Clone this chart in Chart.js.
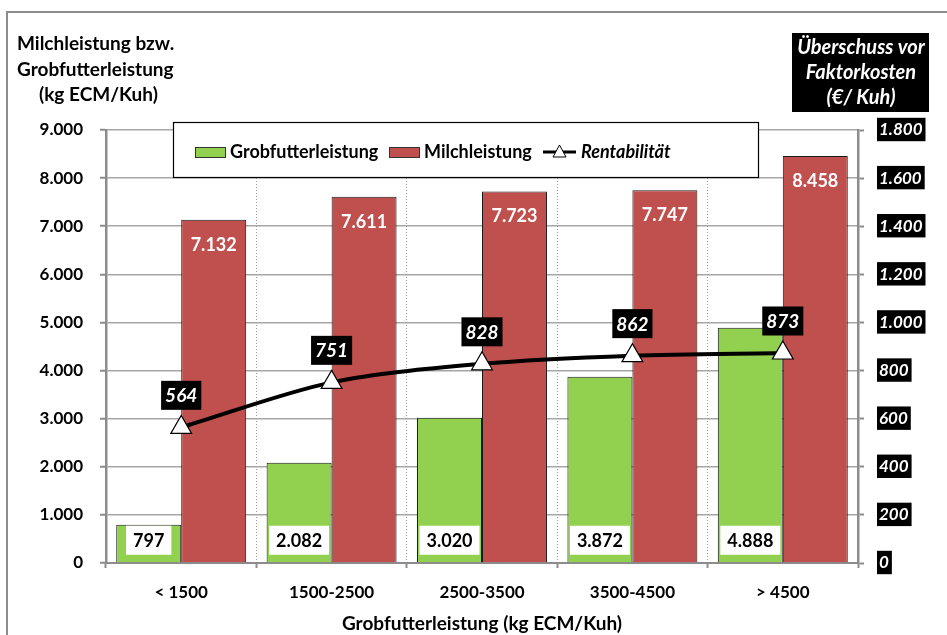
<!DOCTYPE html>
<html>
<head>
<meta charset="utf-8">
<script src="https://cdn.jsdelivr.net/npm/chart.js@4/dist/chart.umd.min.js"></script>
<style>
  html, body { margin: 0; padding: 0; background: #fff; }
  canvas { display: block; }
</style>
</head>
<body>
<canvas id="chart" width="947" height="635"></canvas>
<script>
// categories and series
const categories = ['< 1500', '1500-2500', '2500-3500', '3500-4500', '> 4500'];
const grobfutter = [797, 2082, 3020, 3872, 4888];
const milch = [7132, 7611, 7723, 7747, 8458];
const rentabilitaet = [564, 751, 828, 862, 873];

const FONT = 'Lato, "Open Sans", sans-serif';
const GRID = '#a6a6a6';
const AXIS = '#8c8c8c';

// German thousands separator
function de(v) {
  return Number(v).toLocaleString('de-DE');
}

function boxText(ctx, text, x, y, font, color, bg, padX, padY) {
  ctx.font = font;
  const w = ctx.measureText(text).width;
  const h = 19;
  ctx.fillStyle = bg;
  ctx.fillRect(x - w / 2 - padX, y - h / 2 - padY, w + padX * 2, h + padY * 2);
  ctx.fillStyle = color;
  ctx.textAlign = 'center';
  ctx.textBaseline = 'middle';
  ctx.fillText(text, x, y + 1);
}

const decorations = {
  id: 'decorations',
  beforeDraw(chart) {
    const ctx = chart.ctx;
    ctx.save();
    ctx.fillStyle = '#fff';
    ctx.fillRect(0, 0, chart.width, chart.height);
    ctx.strokeStyle = '#8c8c8c';
    ctx.lineWidth = 2;
    ctx.strokeRect(7, 12, chart.width + 10, chart.height + 10);

    // left axis title
    ctx.fillStyle = '#000';
    ctx.font = 'bold 19px ' + FONT;
    ctx.textAlign = 'left';
    ctx.textBaseline = 'middle';
    ctx.fillText('Milchleistung bzw.', 17, 44);
    ctx.fillText('Grobfutterleistung', 17, 70);
    ctx.fillText('(kg ECM/Kuh)', 39, 95);

    // right axis title in black box
    ctx.fillStyle = '#000';
    ctx.fillRect(792, 33, 137, 79);
    ctx.fillStyle = '#fff';
    ctx.font = 'italic bold 20px ' + FONT;
    ctx.textAlign = 'center';
    ctx.fillText('Überschuss vor', 861, 48);
    ctx.fillText('Faktorkosten', 861, 73);
    ctx.fillText('(€/ Kuh)', 861, 98);
    ctx.restore();
  },
  afterDatasetsDraw(chart) {
    const ctx = chart.ctx;
    ctx.save();
    const green = chart.getDatasetMeta(0).data;
    const red = chart.getDatasetMeta(1).data;
    const line = chart.getDatasetMeta(2).data;
    const labelFont = 'bold 18px ' + FONT;

    green.forEach((bar, i) => {
      boxText(ctx, de(grobfutter[i]), bar.x, bar.base - 22, labelFont, '#000', '#fff', 7, 5);
    });
    red.forEach((bar, i) => {
      ctx.font = labelFont;
      ctx.fillStyle = '#fff';
      ctx.textAlign = 'center';
      ctx.textBaseline = 'middle';
      ctx.fillText(de(milch[i]), bar.x, bar.y + 25);
    });
    line.forEach((pt, i) => {
      boxText(ctx, de(rentabilitaet[i]), pt.x, pt.y - 32, 'italic bold 19px ' + FONT, '#fff', '#000', 4, 5);
    });

    // legend box overlapping the plot
    ctx.fillStyle = '#fff';
    ctx.fillRect(173, 122, 585, 56);
    ctx.strokeStyle = '#000';
    ctx.lineWidth = 1.2;
    ctx.strokeRect(173.5, 122.5, 585, 55);
    ctx.font = 'bold 18px ' + FONT;
    ctx.textAlign = 'left';
    ctx.textBaseline = 'middle';
    const ly = 152;
    ctx.fillStyle = '#92D050';
    ctx.fillRect(195, ly - 5, 31, 10);
    ctx.strokeStyle = '#333';
    ctx.lineWidth = 1;
    ctx.strokeRect(195.5, ly - 4.5, 30, 10);
    ctx.fillStyle = '#000';
    ctx.fillText('Grobfutterleistung', 230, ly);
    ctx.fillStyle = '#C0504D';
    ctx.fillRect(389, ly - 5, 31, 10);
    ctx.strokeRect(389.5, ly - 4.5, 30, 10);
    ctx.fillStyle = '#000';
    ctx.fillText('Milchleistung', 424, ly);
    ctx.strokeStyle = '#000';
    ctx.lineWidth = 3;
    ctx.beginPath();
    ctx.moveTo(543, ly);
    ctx.lineTo(576, ly);
    ctx.stroke();
    ctx.beginPath();
    ctx.moveTo(559.5, ly - 7);
    ctx.lineTo(566, ly + 5);
    ctx.lineTo(553, ly + 5);
    ctx.closePath();
    ctx.fillStyle = '#fff';
    ctx.fill();
    ctx.lineWidth = 1;
    ctx.stroke();
    ctx.fillStyle = '#000';
    ctx.font = 'italic bold 18px ' + FONT;
    ctx.fillText('Rentabilität', 581, ly);
    ctx.restore();
  }
};

new Chart(document.getElementById('chart'), {
  type: 'bar',
  data: {
    labels: categories,
    datasets: [
      {
        label: 'Grobfutterleistung',
        data: grobfutter,
        backgroundColor: '#92D050',
        borderColor: '#1a1a1a',
        borderWidth: 1,
        borderSkipped: 'bottom',
        yAxisID: 'y',
        order: 2
      },
      {
        label: 'Milchleistung',
        data: milch,
        backgroundColor: '#C0504D',
        borderColor: '#1a1a1a',
        borderWidth: 1,
        borderSkipped: 'bottom',
        yAxisID: 'y',
        order: 2
      },
      {
        type: 'line',
        label: 'Rentabilität',
        data: rentabilitaet,
        borderColor: '#000',
        borderWidth: 4,
        tension: 0.3,
        pointStyle: 'triangle',
        pointRadius: 12,
        pointBackgroundColor: '#fff',
        pointBorderColor: '#000',
        pointBorderWidth: 1.2,
        yAxisID: 'y1',
        order: 1
      }
    ]
  },
  options: {
    responsive: false,
    animation: false,
    devicePixelRatio: 1,
    categoryPercentage: 0.864,
    barPercentage: 1,
    layout: { padding: { top: 130, left: 0, right: 0, bottom: 0 } },
    plugins: {
      legend: { display: false },
      tooltip: { enabled: false }
    },
    scales: {
      x: {
        grid: {
          offset: true,
          color: '#9a9a9a',
          lineWidth: 1,
          tickLength: 5,
          tickColor: AXIS,
          tickWidth: 2,
          tickBorderDash: []
        },
        border: { color: AXIS, width: 2, dash: [1, 2] },
        ticks: {
          color: '#000',
          font: { family: FONT, size: 17, weight: 'bold' },
          padding: 14
        },
        title: {
          display: true,
          text: 'Grobfutterleistung (kg ECM/Kuh)',
          color: '#000',
          font: { family: FONT, size: 19, weight: 'bold' },
          padding: { top: 4, bottom: 0 }
        },
        afterFit(s) { s.height = 72; }
      },
      y: {
        position: 'left',
        min: 0,
        max: 9000,
        grid: {
          color: GRID,
          lineWidth: 1.5,
          tickLength: 6,
          tickColor: AXIS,
          tickWidth: 2
        },
        border: { color: AXIS, width: 2.5 },
        ticks: {
          stepSize: 1000,
          color: '#000',
          font: { family: FONT, size: 17, weight: 'bold' },
          padding: 17,
          callback: v => de(v)
        },
        afterFit(s) { s.width = 106; }
      },
      y1: {
        position: 'right',
        min: 0,
        max: 1800,
        grid: {
          drawOnChartArea: false,
          tickLength: 6,
          tickColor: AXIS,
          tickWidth: 2
        },
        border: { color: AXIS, width: 2.5 },
        ticks: {
          stepSize: 200,
          color: '#fff',
          font: { family: FONT, size: 17, weight: 'bold', style: 'italic' },
          padding: 15,
          showLabelBackdrop: true,
          backdropColor: '#000',
          backdropPadding: { top: 2, bottom: 1, left: 2, right: 3 },
          callback: v => de(v)
        },
        afterFit(s) { s.width = 89; }
      }
    }
  },
  plugins: [decorations]
});
</script>
</body>
</html>
